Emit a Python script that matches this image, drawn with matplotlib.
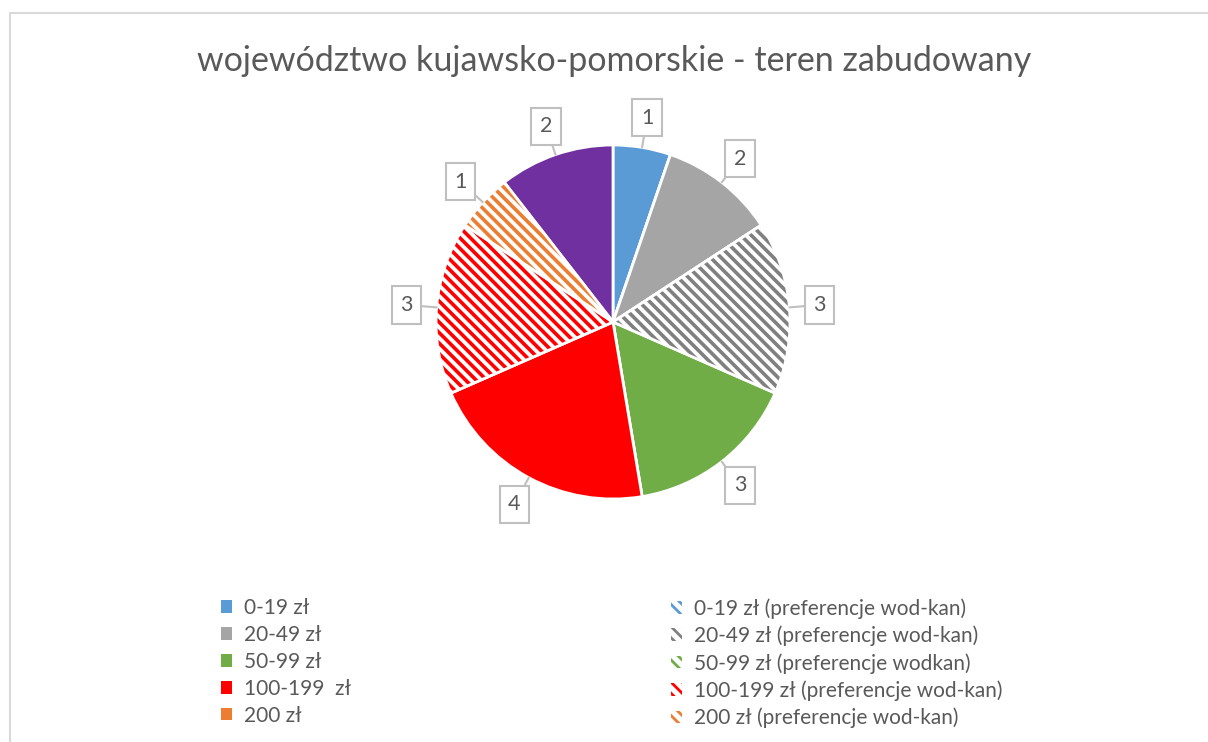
import matplotlib.pyplot as plt
import matplotlib.patches as mpatches
from matplotlib.collections import LineCollection
import numpy as np

plt.rcParams['font.family'] = ['Lato', 'DejaVu Sans']
plt.rcParams['hatch.linewidth'] = 2.0

title = 'województwo kujawsko-pomorskie - teren zabudowany'

# kategorie w kolejności serii (zgodnie z ruchem wskazówek zegara od góry)
categories = ['0-19 zł', '0-19 zł (preferencje wod-kan)',
              '20-49 zł', '20-49 zł (preferencje wod-kan)',
              '50-99 zł', '50-99 zł (preferencje wodkan)',
              '100-199  zł', '100-199 zł (preferencje wod-kan)',
              '200 zł', '200 zł (preferencje wod-kan)',
              'pozostałe']
values = [1, 0, 2, 3, 3, 0, 4, 3, 0, 1, 2]
colors = ['#5B9BD5', '#5B9BD5', '#A5A5A5', '#808080', '#70AD47', '#70AD47',
          '#FF0000', '#FF0000', '#ED7D31', '#ED7D31', '#7030A0']
hatched = [False, True, False, True, False, True, False, True, False, True, False]
in_legend = [True] * 10 + [False]

text_col = '#595959'
box_col = '#BFBFBF'

W, H = 1208, 742
fig = plt.figure(figsize=(W / 100, H / 100), dpi=100)

# ramka wykresu
fig.patches.append(mpatches.Rectangle((10 / W, -0.05), 1.1, (H - 13) / H + 0.05,
                                      transform=fig.transFigure, fill=False,
                                      ec='#D9D9D9', lw=1.5))

fig.text(614 / W, 1 - 61 / H, title, ha='center', va='center',
         fontsize=24.5, color=text_col)

# oś kołowa: środek (613, 322), promień 177 px
R = 177
side = 3 * R
ax = fig.add_axes([(613 - side / 2) / W, (H - 322 - side / 2) / H, side / W, side / H])

wedges, _ = ax.pie(values, startangle=90, counterclock=False, colors=colors,
                   wedgeprops=dict(edgecolor='white', linewidth=2))
ax.set_xlim(-1.5, 1.5)
ax.set_ylim(-1.5, 1.5)
ax.axis('off')

step = 10.5 / R
cs = np.arange(-3, 3, step)
for w, h, c in zip(wedges, hatched, colors):
    if not h or w.theta2 - w.theta1 <= 0:
        continue
    w.set_facecolor('white')
    segs = [[(-2, c0 + 2), (2, c0 - 2)] for c0 in cs]
    lc = LineCollection(segs, colors=c, linewidths=2.6, zorder=3)
    ax.add_collection(lc)
    lc.set_clip_path(w)
    ax.add_patch(mpatches.Wedge((0, 0), 1, w.theta1, w.theta2, fill=False,
                                ec='white', lw=2, zorder=4))

# etykiety danych w objaśnieniach
for w, v in zip(wedges, values):
    if v == 0:
        continue
    a = np.deg2rad((w.theta1 + w.theta2) / 2)
    ax.annotate(str(v), xy=(np.cos(a), np.sin(a)),
                xytext=(1.17 * np.cos(a), 1.17 * np.sin(a)),
                ha='center', va='center', fontsize=15.5, color=text_col,
                bbox=dict(boxstyle='square,pad=0.4', fc='white', ec=box_col, lw=1.5),
                arrowprops=dict(arrowstyle='-', color=box_col, lw=1.5,
                                shrinkA=0, shrinkB=0),
                zorder=5)

handles = []
for cat, c, h, show in zip(categories, colors, hatched, in_legend):
    if not show:
        continue
    if h:
        p = mpatches.Patch(facecolor='white', edgecolor=c, hatch='\\\\\\', lw=0, label=cat)
    else:
        p = mpatches.Patch(facecolor=c, edgecolor='none', label=cat)
    handles.append(p)

left = handles[0::2]
right = handles[1::2]
leg_kw = dict(loc='upper left', frameon=False, fontsize=15, labelcolor=text_col,
              handlelength=0.55, handleheight=0.55, handletextpad=0.55,
              labelspacing=0.33, borderaxespad=0, borderpad=0)
fig.legend(handles=left, bbox_to_anchor=(221 / W, 1 - 598 / H), **leg_kw)
fig.legend(handles=right, bbox_to_anchor=(671 / W, 1 - 598 / H), **leg_kw)

fig.savefig('out.png', dpi=100)
